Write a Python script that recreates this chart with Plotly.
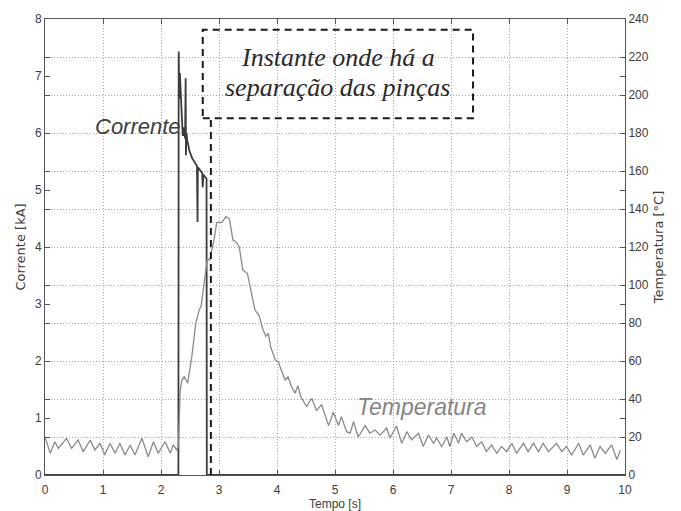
import plotly.graph_objects as go

# Temperature reading (°C) over time (s)
temp_time = [0.00, 0.09, 0.17, 0.23, 0.37, 0.46, 0.57, 0.66, 0.78, 0.86, 0.95, 1.03, 1.12, 1.21,
             1.29, 1.38, 1.47, 1.55, 1.67, 1.78, 1.87, 1.95, 2.07, 2.16, 2.21, 2.27, 2.30, 2.33,
             2.36, 2.40, 2.46, 2.53, 2.60, 2.66, 2.69, 2.75, 2.80, 2.84, 2.92, 2.96, 3.05, 3.12,
             3.18, 3.24, 3.29, 3.35, 3.41, 3.49, 3.55, 3.62, 3.69, 3.76, 3.81, 3.85, 3.89, 3.97,
             4.02, 4.08, 4.14, 4.19, 4.25, 4.31, 4.36, 4.41, 4.51, 4.60, 4.68, 4.77, 4.89, 4.97,
             5.06, 5.11, 5.20, 5.26, 5.32, 5.40, 5.52, 5.60, 5.69, 5.78, 5.89, 5.95, 6.06, 6.15,
             6.24, 6.32, 6.44, 6.52, 6.61, 6.70, 6.75, 6.84, 6.93, 6.98, 7.05, 7.13, 7.18, 7.27,
             7.36, 7.44, 7.53, 7.61, 7.70, 7.79, 7.87, 7.96, 8.05, 8.13, 8.25, 8.33, 8.42, 8.51,
             8.59, 8.68, 8.82, 8.91, 8.99, 9.08, 9.20, 9.28, 9.40, 9.48, 9.57, 9.66, 9.77, 9.86,
             9.92]
temp_vals = [20.2, 11.4, 17.5, 14.0, 19.3, 14.0, 18.4, 12.3, 18.4, 13.2, 16.7, 10.5, 16.7, 11.4,
             16.7, 10.5, 15.8, 10.5, 19.3, 9.6, 17.5, 11.4, 17.5, 11.4, 15.8, 13.2, 14.9, 44.0,
             50.0, 51.7, 48.4, 62.0, 80.0, 87.0, 88.6, 102.6, 114.0, 113.0, 124.6, 133.0, 133.0, 136.0,
             134.7, 123.7, 122.8, 120.0, 108.0, 106.0, 97.4, 86.8, 84.0, 76.3, 73.0, 74.6, 67.5, 60.5,
             59.6, 54.4, 50.0, 51.7, 46.5, 43.0, 47.0, 41.2, 36.0, 40.4, 34.0, 37.0, 26.0, 33.0,
             26.0, 30.7, 22.8, 22.0, 28.0, 20.0, 26.0, 22.0, 23.7, 21.0, 24.7, 19.5, 25.8, 16.7,
             22.8, 18.4, 22.0, 15.0, 21.0, 16.7, 19.5, 15.0, 20.0, 15.0, 22.0, 16.7, 22.0, 17.5,
             20.0, 15.0, 17.5, 12.3, 15.8, 11.4, 15.0, 12.3, 16.7, 11.4, 16.7, 12.3, 16.7, 12.3,
             16.7, 12.3, 16.7, 12.3, 15.0, 10.5, 16.7, 10.5, 15.8, 8.8, 15.0, 11.4, 15.8, 8.2,
             13.0]

# Welding current (kA) over time (s)
current_time = [0.00, 2.300, 2.305, 2.315, 2.325, 2.335, 2.345, 2.355, 2.365, 2.375, 2.385,
                2.395, 2.405, 2.415, 2.425, 2.430, 2.440, 2.455, 2.470, 2.485, 2.500, 2.520,
                2.540, 2.560, 2.580, 2.600, 2.620, 2.630, 2.635, 2.650, 2.670, 2.690, 2.710,
                2.720, 2.730, 2.750, 2.770, 2.785, 2.790, 10.00]
current_vals = [0.00, 0.00, 7.43, 6.60, 7.05, 6.80, 6.55, 6.30, 6.10, 5.95, 6.10,
                5.95, 6.05, 5.90, 6.96, 5.61, 6.00, 5.85, 5.80, 5.70, 5.65, 5.62,
                5.55, 5.52, 5.48, 5.45, 5.42, 4.44, 5.40, 5.38, 5.35, 5.33, 5.30,
                5.05, 5.27, 5.24, 5.22, 5.20, 0.00, 0.00]

# Annotation geometry (data units)
box_x = [2.72, 7.38]
box_y = [6.26, 7.81]
separation_t = 2.86

sans = "Liberation Sans, Arial, sans-serif"
axis_font = dict(family=sans, size=12, color="#3c3c3c")
title_font = dict(family="DejaVu Sans, Verdana, sans-serif", size=13, color="#3c3c3c")
grid_kw = dict(showgrid=True, gridcolor="#a6a6a6", griddash="1px,2px", gridwidth=1)
frame_kw = dict(ticks="inside", ticklen=5, tickcolor="#555", showline=True, linecolor="#555",
                linewidth=1, mirror="ticks", tickfont=axis_font, zeroline=False,
                automargin=False)

fig = go.Figure()
fig.add_trace(go.Scatter(x=temp_time, y=temp_vals, yaxis="y2", mode="lines",
                         line=dict(color="#8a8a8a", width=1.3), showlegend=False))
fig.add_trace(go.Scatter(x=current_time, y=current_vals, mode="lines",
                         line=dict(color="#3c3c3c", width=1.8), showlegend=False))

# Dashed box marking the clamp separation instant
fig.add_shape(type="rect", xref="x", yref="y", x0=box_x[0], x1=box_x[1], y0=box_y[0], y1=box_y[1],
              line=dict(color="#1a1a1a", width=2, dash="7px,5px"))
fig.add_shape(type="line", xref="x", yref="y", x0=separation_t, x1=separation_t, y0=0, y1=box_y[0],
              line=dict(color="#1a1a1a", width=2, dash="7px,5px"))

serif = dict(family="Liberation Serif, Times New Roman, serif", size=26, color="#2a2a2a")
fig.add_annotation(x=sum(box_x) / 2, y=7.33, xref="x", yref="y", showarrow=False,
                   text="<i>Instante onde há a</i>", font=serif)
fig.add_annotation(x=sum(box_x) / 2, y=6.79, xref="x", yref="y", showarrow=False,
                   text="<i>separação das pinças</i>", font=serif)

fig.add_annotation(x=1.60, y=6.12, xref="x", yref="y", showarrow=False,
                   text="<i>Corrente</i>", font=dict(family=sans, size=22, color="#404040"))
fig.add_annotation(x=6.5, y=36, xref="x", yref="y2", showarrow=False,
                   text="<i>Temperatura</i>", font=dict(family=sans, size=23, color="#858585"))

fig.update_layout(
    width=681, height=511,
    margin=dict(l=45, r=56, t=19, b=36),
    paper_bgcolor="white", plot_bgcolor="white",
    xaxis=dict(range=[0, 10], dtick=1, tick0=0, ticklabelstandoff=4,
               title=dict(text="Tempo [s]", font=dict(family=sans, size=12, color="#3c3c3c"),
                          standoff=1),
               **frame_kw, **grid_kw),
    yaxis=dict(range=[0, 8], dtick=1, tick0=0, showgrid=False,
               title=dict(text="Corrente [kA]", font=title_font, standoff=6),
               **frame_kw),
    yaxis2=dict(range=[0, 240], dtick=20, tick0=0, overlaying="y", side="right",
                title=dict(text="Temperatura [°C]", font=title_font, standoff=6),
                **frame_kw, **grid_kw),
)

fig.write_html("out.html")
